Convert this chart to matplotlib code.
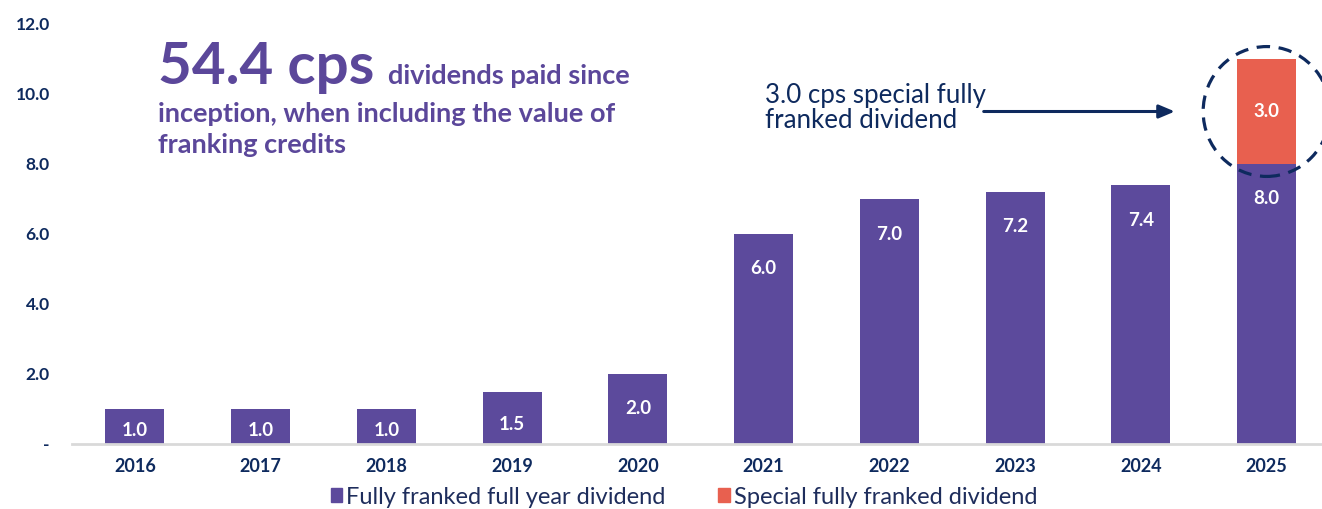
import matplotlib
matplotlib.use('Agg')
import matplotlib.pyplot as plt
from matplotlib.patches import Ellipse, Patch
import numpy as np

years = ['2016', '2017', '2018', '2019', '2020', '2021', '2022', '2023', '2024', '2025']
full_year = [1.0, 1.0, 1.0, 1.5, 2.0, 6.0, 7.0, 7.2, 7.4, 8.0]
special = [0, 0, 0, 0, 0, 0, 0, 0, 0, 3.0]
yticks = [0, 2, 4, 6, 8, 10, 12]
ytick_labels = ['-', '2.0', '4.0', '6.0', '8.0', '10.0', '12.0']
series_names = ['Fully franked full year dividend', 'Special fully franked dividend']

PURPLE = '#5C4A9C'
RED = '#E8604F'
NAVY = '#0E2A5E'
TITLE = '#5B479A'

W, H = 1322, 509
BOLD = ['Lato', 'DejaVu Sans']
NARROW = ['Liberation Sans Narrow', 'Lato', 'DejaVu Sans']

def px(x, y):
    return (x / W, 1 - y / H)

fig = plt.figure(figsize=(W / 100, H / 100), dpi=100)
ax = fig.add_axes([72 / W, 1 - 444 / H, 1 - 72 / W, (444 - 24) / H])
x = np.arange(len(years))
ax.bar(x, full_year, width=0.47, color=PURPLE, zorder=2)
ax.bar(x, special, bottom=full_year, width=0.47, color=RED, zorder=2)
ax.set_xlim(-0.5, 9.44)
ax.set_ylim(0, 12)

for s in ['top', 'right', 'left']:
    ax.spines[s].set_visible(False)
ax.spines['bottom'].set_color('#D9D9D9')
ax.spines['bottom'].set_linewidth(2)
ax.set_xticks(x)
ax.set_xticklabels(years, family=BOLD, fontweight='bold', fontsize=13, color=NAVY)
ax.set_yticks(yticks)
ax.set_yticklabels(ytick_labels, family=BOLD, fontweight='bold', fontsize=12.5, color=NAVY)
ax.tick_params(axis='both', length=0)
ax.tick_params(axis='y', pad=16)
ax.tick_params(axis='x', pad=10)

# value labels
px_per_unit = (444 - 24) / 12.0
for xi, v in zip(x, full_year):
    hpx = v * px_per_unit
    off = min(35, 0.62 * hpx)
    ax.annotate(f'{v:.1f}', xy=(xi, v), xytext=(0, -off * 0.72), textcoords='offset points',
                ha='center', va='center', color='white', fontsize=13.5,
                family=BOLD, fontweight='bold', zorder=3)
for xi, b, v in zip(x, full_year, special):
    if v > 0:
        ax.text(xi, b + v / 2, f'{v:.1f}', ha='center', va='center', color='white',
                fontsize=13.5, family=BOLD, fontweight='bold', zorder=3)

# dashed circle around special dividend
idx = len(years) - 1
cy = full_year[idx] + special[idx] / 2
ell = Ellipse((x[idx], cy), width=1.01, height=3.71,
              fill=False, edgecolor=NAVY, linewidth=2.3, linestyle=(0, (4.2, 2.7)),
              zorder=4, clip_on=False)
ax.add_patch(ell)

# arrow and annotation text
ax.annotate('', xy=(x[idx] - 0.73, cy), xytext=(x[idx] - 2.25, cy),
            arrowprops=dict(arrowstyle='-|>,head_length=0.95,head_width=0.4', color=NAVY,
                            lw=2.2, shrinkA=0, shrinkB=0))
fig.text(*px(765, 103), '3.0 cps special fully', family=NARROW,
         fontsize=18.6, color=NAVY, va='baseline', ha='left')
fig.text(*px(765, 128), 'franked dividend', family=NARROW,
         fontsize=18.6, color=NAVY, va='baseline', ha='left')

# headline
fig.text(*px(158, 84), '54.4 cps', family=BOLD, fontweight='bold', fontsize=42,
         color=TITLE, va='baseline', ha='left')
fig.text(*px(388, 84), 'dividends paid since', family=BOLD, fontweight='bold', fontsize=19.5,
         color=TITLE, va='baseline', ha='left')
fig.text(*px(158, 122), 'inception, when including the value of', family=BOLD,
         fontweight='bold', fontsize=19.5, color=TITLE, va='baseline', ha='left')
fig.text(*px(158, 153), 'franking credits', family=BOLD, fontweight='bold', fontsize=19.5,
         color=TITLE, va='baseline', ha='left')

handles = [Patch(color=PURPLE), Patch(color=RED)]
fig.legend(handles, series_names, loc='center', bbox_to_anchor=px(684, 497), ncol=2,
           frameon=False, handlelength=0.5, handleheight=0.5, handletextpad=0.15,
           columnspacing=2.25, prop=dict(family=NARROW, size=17), labelcolor='#1E2D5C',
           borderaxespad=0, borderpad=0)

fig.savefig('out.png', dpi=100)
